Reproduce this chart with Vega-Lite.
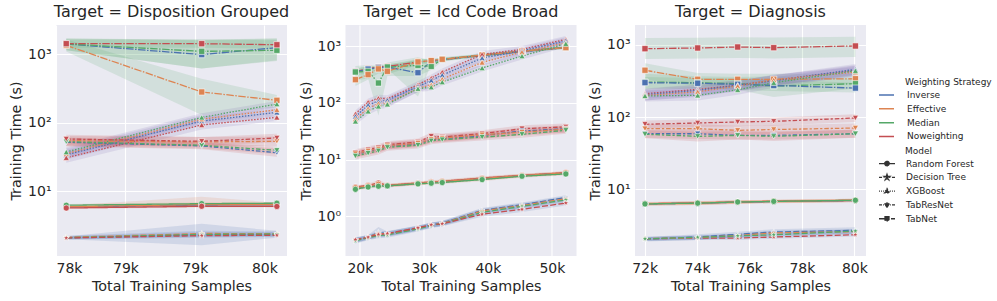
{
  "$schema": "https://vega.github.io/schema/vega-lite/v6.json",
  "background": "white",
  "padding": {"left": 9, "top": 4, "right": 5, "bottom": 5},
  "data": {"values": [
    {"p":"D","w":"Inverse","m":"TabNet","x":78074,"y":1420,"lo":1150,"hi":1700},
    {"p":"D","w":"Inverse","m":"TabNet","x":79049,"y":990,"lo":620,"hi":1600},
    {"p":"D","w":"Inverse","m":"TabNet","x":79590,"y":1250,"lo":820,"hi":1700},
    {"p":"D","w":"Effective","m":"TabNet","x":78074,"y":1350,"lo":1100,"hi":1650},
    {"p":"D","w":"Effective","m":"TabNet","x":79049,"y":282,"lo":130,"hi":440},
    {"p":"D","w":"Effective","m":"TabNet","x":79590,"y":213,"lo":170,"hi":255},
    {"p":"D","w":"Median","m":"TabNet","x":78074,"y":1420,"lo":1150,"hi":1700},
    {"p":"D","w":"Median","m":"TabNet","x":79049,"y":1105,"lo":620,"hi":1650},
    {"p":"D","w":"Median","m":"TabNet","x":79590,"y":1145,"lo":800,"hi":1700},
    {"p":"D","w":"Noweighting","m":"TabNet","x":78074,"y":1430,"lo":1250,"hi":1650},
    {"p":"D","w":"Noweighting","m":"TabNet","x":79049,"y":1430,"lo":1250,"hi":1650},
    {"p":"D","w":"Noweighting","m":"TabNet","x":79590,"y":1380,"lo":1200,"hi":1600},
    {"p":"D","w":"Inverse","m":"XGBoost","x":78074,"y":34.2,"lo":29,"hi":40},
    {"p":"D","w":"Inverse","m":"XGBoost","x":79049,"y":106,"lo":92,"hi":122},
    {"p":"D","w":"Inverse","m":"XGBoost","x":79590,"y":142,"lo":125,"hi":160},
    {"p":"D","w":"Effective","m":"XGBoost","x":78074,"y":35.5,"lo":30,"hi":42},
    {"p":"D","w":"Effective","m":"XGBoost","x":79049,"y":113,"lo":98,"hi":130},
    {"p":"D","w":"Effective","m":"XGBoost","x":79590,"y":155,"lo":137,"hi":175},
    {"p":"D","w":"Median","m":"XGBoost","x":78074,"y":37.5,"lo":32,"hi":44},
    {"p":"D","w":"Median","m":"XGBoost","x":79049,"y":120,"lo":104,"hi":138},
    {"p":"D","w":"Median","m":"XGBoost","x":79590,"y":188,"lo":168,"hi":208},
    {"p":"D","w":"Noweighting","m":"XGBoost","x":78074,"y":30.9,"lo":26,"hi":37},
    {"p":"D","w":"Noweighting","m":"XGBoost","x":79049,"y":93,"lo":80,"hi":108},
    {"p":"D","w":"Noweighting","m":"XGBoost","x":79590,"y":120,"lo":106,"hi":135},
    {"p":"D","w":"Inverse","m":"TabResNet","x":78074,"y":52,"lo":45,"hi":60},
    {"p":"D","w":"Inverse","m":"TabResNet","x":79049,"y":46,"lo":41,"hi":52},
    {"p":"D","w":"Inverse","m":"TabResNet","x":79590,"y":36.6,"lo":32,"hi":42},
    {"p":"D","w":"Effective","m":"TabResNet","x":78074,"y":55,"lo":47,"hi":64},
    {"p":"D","w":"Effective","m":"TabResNet","x":79049,"y":52.5,"lo":45,"hi":62},
    {"p":"D","w":"Effective","m":"TabResNet","x":79590,"y":53.7,"lo":46,"hi":63},
    {"p":"D","w":"Median","m":"TabResNet","x":78074,"y":53,"lo":46,"hi":61},
    {"p":"D","w":"Median","m":"TabResNet","x":79049,"y":47,"lo":42,"hi":53},
    {"p":"D","w":"Median","m":"TabResNet","x":79590,"y":39.6,"lo":35,"hi":45},
    {"p":"D","w":"Noweighting","m":"TabResNet","x":78074,"y":58,"lo":50,"hi":67},
    {"p":"D","w":"Noweighting","m":"TabResNet","x":79049,"y":53.7,"lo":46,"hi":62},
    {"p":"D","w":"Noweighting","m":"TabResNet","x":79590,"y":60,"lo":52,"hi":69},
    {"p":"D","w":"Inverse","m":"Random Forest","x":78074,"y":5.9,"lo":5.7,"hi":6.1},
    {"p":"D","w":"Inverse","m":"Random Forest","x":79049,"y":6.3,"lo":5.9,"hi":6.8},
    {"p":"D","w":"Inverse","m":"Random Forest","x":79590,"y":6.35,"lo":6.1,"hi":6.6},
    {"p":"D","w":"Effective","m":"Random Forest","x":78074,"y":5.95,"lo":5.7,"hi":6.2},
    {"p":"D","w":"Effective","m":"Random Forest","x":79049,"y":6.4,"lo":5.9,"hi":8.3},
    {"p":"D","w":"Effective","m":"Random Forest","x":79590,"y":6.4,"lo":6.1,"hi":6.8},
    {"p":"D","w":"Median","m":"Random Forest","x":78074,"y":6.26,"lo":6,"hi":6.5},
    {"p":"D","w":"Median","m":"Random Forest","x":79049,"y":6.6,"lo":6.3,"hi":6.9},
    {"p":"D","w":"Median","m":"Random Forest","x":79590,"y":6.7,"lo":6.4,"hi":7},
    {"p":"D","w":"Noweighting","m":"Random Forest","x":78074,"y":5.7,"lo":5.5,"hi":5.9},
    {"p":"D","w":"Noweighting","m":"Random Forest","x":79049,"y":6.04,"lo":5.8,"hi":6.3},
    {"p":"D","w":"Noweighting","m":"Random Forest","x":79590,"y":6,"lo":5.8,"hi":6.2},
    {"p":"D","w":"Inverse","m":"Decision Tree","x":78074,"y":2.1,"lo":2,"hi":2.2},
    {"p":"D","w":"Inverse","m":"Decision Tree","x":79049,"y":2.32,"lo":1.63,"hi":3.36},
    {"p":"D","w":"Inverse","m":"Decision Tree","x":79590,"y":2.35,"lo":2.1,"hi":2.65},
    {"p":"D","w":"Effective","m":"Decision Tree","x":78074,"y":2.12,"lo":2,"hi":2.25},
    {"p":"D","w":"Effective","m":"Decision Tree","x":79049,"y":2.42,"lo":2.2,"hi":2.65},
    {"p":"D","w":"Effective","m":"Decision Tree","x":79590,"y":2.4,"lo":2.2,"hi":2.6},
    {"p":"D","w":"Median","m":"Decision Tree","x":78074,"y":2.1,"lo":2,"hi":2.2},
    {"p":"D","w":"Median","m":"Decision Tree","x":79049,"y":2.35,"lo":2.15,"hi":2.55},
    {"p":"D","w":"Median","m":"Decision Tree","x":79590,"y":2.38,"lo":2.2,"hi":2.55},
    {"p":"D","w":"Noweighting","m":"Decision Tree","x":78074,"y":2.08,"lo":1.98,"hi":2.18},
    {"p":"D","w":"Noweighting","m":"Decision Tree","x":79049,"y":2.25,"lo":2.1,"hi":2.4},
    {"p":"D","w":"Noweighting","m":"Decision Tree","x":79590,"y":2.28,"lo":2.15,"hi":2.4},

    {"p":"I","w":"Noweighting","m":"TabNet","x":19310,"y":362,"lo":320,"hi":410},
    {"p":"I","w":"Noweighting","m":"TabNet","x":21290,"y":403,"lo":370,"hi":440},
    {"p":"I","w":"Noweighting","m":"TabNet","x":22900,"y":431,"lo":400,"hi":460},
    {"p":"I","w":"Noweighting","m":"TabNet","x":24300,"y":443,"lo":410,"hi":480},
    {"p":"I","w":"Noweighting","m":"TabNet","x":29080,"y":528,"lo":490,"hi":570},
    {"p":"I","w":"Noweighting","m":"TabNet","x":31150,"y":551,"lo":520,"hi":590},
    {"p":"I","w":"Noweighting","m":"TabNet","x":32870,"y":581,"lo":550,"hi":615},
    {"p":"I","w":"Noweighting","m":"TabNet","x":39100,"y":693,"lo":660,"hi":730},
    {"p":"I","w":"Noweighting","m":"TabNet","x":45330,"y":816,"lo":780,"hi":850},
    {"p":"I","w":"Noweighting","m":"TabNet","x":52180,"y":945,"lo":900,"hi":990},
    {"p":"I","w":"Inverse","m":"TabNet","x":19310,"y":355,"lo":300,"hi":410},
    {"p":"I","w":"Inverse","m":"TabNet","x":21290,"y":395,"lo":340,"hi":440},
    {"p":"I","w":"Inverse","m":"TabNet","x":22900,"y":420,"lo":380,"hi":460},
    {"p":"I","w":"Inverse","m":"TabNet","x":24300,"y":430,"lo":400,"hi":470},
    {"p":"I","w":"Inverse","m":"TabNet","x":29080,"y":342,"lo":130,"hi":600},
    {"p":"I","w":"Inverse","m":"TabNet","x":31150,"y":540,"lo":480,"hi":590},
    {"p":"I","w":"Inverse","m":"TabNet","x":32870,"y":585,"lo":550,"hi":620},
    {"p":"I","w":"Inverse","m":"TabNet","x":39100,"y":690,"lo":660,"hi":720},
    {"p":"I","w":"Inverse","m":"TabNet","x":45330,"y":810,"lo":780,"hi":840},
    {"p":"I","w":"Inverse","m":"TabNet","x":52180,"y":950,"lo":910,"hi":990},
    {"p":"I","w":"Median","m":"TabNet","x":19310,"y":352,"lo":250,"hi":450},
    {"p":"I","w":"Median","m":"TabNet","x":21290,"y":362,"lo":270,"hi":470},
    {"p":"I","w":"Median","m":"TabNet","x":22900,"y":225,"lo":60,"hi":450},
    {"p":"I","w":"Median","m":"TabNet","x":24300,"y":431,"lo":300,"hi":520},
    {"p":"I","w":"Median","m":"TabNet","x":29080,"y":462,"lo":300,"hi":640},
    {"p":"I","w":"Median","m":"TabNet","x":31150,"y":443,"lo":380,"hi":560},
    {"p":"I","w":"Median","m":"TabNet","x":32870,"y":590,"lo":540,"hi":640},
    {"p":"I","w":"Median","m":"TabNet","x":39100,"y":695,"lo":650,"hi":740},
    {"p":"I","w":"Median","m":"TabNet","x":45330,"y":815,"lo":770,"hi":860},
    {"p":"I","w":"Median","m":"TabNet","x":52180,"y":960,"lo":900,"hi":1010},
    {"p":"I","w":"Effective","m":"TabNet","x":19310,"y":258,"lo":200,"hi":320},
    {"p":"I","w":"Effective","m":"TabNet","x":21290,"y":316,"lo":260,"hi":380},
    {"p":"I","w":"Effective","m":"TabNet","x":22900,"y":400,"lo":330,"hi":460},
    {"p":"I","w":"Effective","m":"TabNet","x":24300,"y":362,"lo":320,"hi":420},
    {"p":"I","w":"Effective","m":"TabNet","x":29080,"y":530,"lo":470,"hi":590},
    {"p":"I","w":"Effective","m":"TabNet","x":31150,"y":560,"lo":510,"hi":610},
    {"p":"I","w":"Effective","m":"TabNet","x":32870,"y":590,"lo":550,"hi":630},
    {"p":"I","w":"Effective","m":"TabNet","x":39100,"y":700,"lo":660,"hi":740},
    {"p":"I","w":"Effective","m":"TabNet","x":45330,"y":820,"lo":780,"hi":860},
    {"p":"I","w":"Effective","m":"TabNet","x":52180,"y":950,"lo":910,"hi":990},
    {"p":"I","w":"Noweighting","m":"XGBoost","x":19310,"y":64.7,"lo":56,"hi":74},
    {"p":"I","w":"Noweighting","m":"XGBoost","x":21290,"y":104,"lo":90,"hi":120},
    {"p":"I","w":"Noweighting","m":"XGBoost","x":22900,"y":122,"lo":106,"hi":140},
    {"p":"I","w":"Noweighting","m":"XGBoost","x":24300,"y":119,"lo":104,"hi":137},
    {"p":"I","w":"Noweighting","m":"XGBoost","x":29080,"y":210,"lo":183,"hi":242},
    {"p":"I","w":"Noweighting","m":"XGBoost","x":31150,"y":276,"lo":240,"hi":317},
    {"p":"I","w":"Noweighting","m":"XGBoost","x":32870,"y":352,"lo":306,"hi":405},
    {"p":"I","w":"Noweighting","m":"XGBoost","x":39100,"y":722,"lo":628,"hi":830},
    {"p":"I","w":"Noweighting","m":"XGBoost","x":45330,"y":880,"lo":766,"hi":1012},
    {"p":"I","w":"Noweighting","m":"XGBoost","x":52180,"y":1328,"lo":1155,"hi":1527},
    {"p":"I","w":"Inverse","m":"XGBoost","x":19310,"y":58,"lo":50,"hi":67},
    {"p":"I","w":"Inverse","m":"XGBoost","x":21290,"y":92,"lo":80,"hi":106},
    {"p":"I","w":"Inverse","m":"XGBoost","x":22900,"y":108,"lo":94,"hi":124},
    {"p":"I","w":"Inverse","m":"XGBoost","x":24300,"y":112,"lo":97,"hi":129},
    {"p":"I","w":"Inverse","m":"XGBoost","x":29080,"y":195,"lo":170,"hi":224},
    {"p":"I","w":"Inverse","m":"XGBoost","x":31150,"y":250,"lo":218,"hi":288},
    {"p":"I","w":"Inverse","m":"XGBoost","x":32870,"y":310,"lo":270,"hi":357},
    {"p":"I","w":"Inverse","m":"XGBoost","x":39100,"y":620,"lo":539,"hi":713},
    {"p":"I","w":"Inverse","m":"XGBoost","x":45330,"y":830,"lo":722,"hi":955},
    {"p":"I","w":"Inverse","m":"XGBoost","x":52180,"y":1250,"lo":1088,"hi":1438},
    {"p":"I","w":"Effective","m":"XGBoost","x":19310,"y":52,"lo":45,"hi":60},
    {"p":"I","w":"Effective","m":"XGBoost","x":21290,"y":80,"lo":70,"hi":92},
    {"p":"I","w":"Effective","m":"XGBoost","x":22900,"y":98,"lo":85,"hi":113},
    {"p":"I","w":"Effective","m":"XGBoost","x":24300,"y":100,"lo":87,"hi":115},
    {"p":"I","w":"Effective","m":"XGBoost","x":29080,"y":180,"lo":157,"hi":207},
    {"p":"I","w":"Effective","m":"XGBoost","x":31150,"y":210,"lo":183,"hi":242},
    {"p":"I","w":"Effective","m":"XGBoost","x":32870,"y":265,"lo":231,"hi":305},
    {"p":"I","w":"Effective","m":"XGBoost","x":39100,"y":520,"lo":452,"hi":598},
    {"p":"I","w":"Effective","m":"XGBoost","x":45330,"y":790,"lo":687,"hi":909},
    {"p":"I","w":"Effective","m":"XGBoost","x":52180,"y":1150,"lo":1000,"hi":1323},
    {"p":"I","w":"Median","m":"XGBoost","x":19310,"y":47.5,"lo":41,"hi":55},
    {"p":"I","w":"Median","m":"XGBoost","x":21290,"y":71.5,"lo":62,"hi":82},
    {"p":"I","w":"Median","m":"XGBoost","x":22900,"y":87.5,"lo":76,"hi":101},
    {"p":"I","w":"Median","m":"XGBoost","x":24300,"y":95,"lo":83,"hi":109},
    {"p":"I","w":"Median","m":"XGBoost","x":29080,"y":179,"lo":156,"hi":206},
    {"p":"I","w":"Median","m":"XGBoost","x":31150,"y":190,"lo":165,"hi":219},
    {"p":"I","w":"Median","m":"XGBoost","x":32870,"y":234,"lo":204,"hi":269},
    {"p":"I","w":"Median","m":"XGBoost","x":39100,"y":414,"lo":360,"hi":476},
    {"p":"I","w":"Median","m":"XGBoost","x":45330,"y":674,"lo":586,"hi":775},
    {"p":"I","w":"Median","m":"XGBoost","x":52180,"y":1110,"lo":966,"hi":1277},
    {"p":"I","w":"Noweighting","m":"TabResNet","x":19310,"y":13.3,"lo":11.6,"hi":15.3},
    {"p":"I","w":"Noweighting","m":"TabResNet","x":21290,"y":15,"lo":13.1,"hi":17.3},
    {"p":"I","w":"Noweighting","m":"TabResNet","x":22900,"y":16.3,"lo":14.2,"hi":18.7},
    {"p":"I","w":"Noweighting","m":"TabResNet","x":24300,"y":18.4,"lo":16,"hi":21.2},
    {"p":"I","w":"Noweighting","m":"TabResNet","x":29080,"y":20.5,"lo":17.8,"hi":23.6},
    {"p":"I","w":"Noweighting","m":"TabResNet","x":31150,"y":25.9,"lo":22.5,"hi":29.8},
    {"p":"I","w":"Noweighting","m":"TabResNet","x":32870,"y":25.1,"lo":21.8,"hi":28.9},
    {"p":"I","w":"Noweighting","m":"TabResNet","x":39100,"y":28.8,"lo":25.1,"hi":33.1},
    {"p":"I","w":"Noweighting","m":"TabResNet","x":45330,"y":35.2,"lo":30.6,"hi":40.5},
    {"p":"I","w":"Noweighting","m":"TabResNet","x":52180,"y":37.8,"lo":32.9,"hi":43.5},
    {"p":"I","w":"Inverse","m":"TabResNet","x":19310,"y":12.3,"lo":10.7,"hi":14.1},
    {"p":"I","w":"Inverse","m":"TabResNet","x":21290,"y":14,"lo":12.2,"hi":16.1},
    {"p":"I","w":"Inverse","m":"TabResNet","x":22900,"y":15.3,"lo":13.3,"hi":17.6},
    {"p":"I","w":"Inverse","m":"TabResNet","x":24300,"y":17.3,"lo":15.1,"hi":19.9},
    {"p":"I","w":"Inverse","m":"TabResNet","x":29080,"y":19,"lo":16.5,"hi":21.9},
    {"p":"I","w":"Inverse","m":"TabResNet","x":31150,"y":22.5,"lo":19.6,"hi":25.9},
    {"p":"I","w":"Inverse","m":"TabResNet","x":32870,"y":23.5,"lo":20.4,"hi":27},
    {"p":"I","w":"Inverse","m":"TabResNet","x":39100,"y":26.5,"lo":23.1,"hi":30.5},
    {"p":"I","w":"Inverse","m":"TabResNet","x":45330,"y":32,"lo":27.8,"hi":36.8},
    {"p":"I","w":"Inverse","m":"TabResNet","x":52180,"y":35,"lo":30.5,"hi":40.3},
    {"p":"I","w":"Effective","m":"TabResNet","x":19310,"y":12.8,"lo":11.1,"hi":14.7},
    {"p":"I","w":"Effective","m":"TabResNet","x":21290,"y":14.3,"lo":12.4,"hi":16.4},
    {"p":"I","w":"Effective","m":"TabResNet","x":22900,"y":15.5,"lo":13.5,"hi":17.8},
    {"p":"I","w":"Effective","m":"TabResNet","x":24300,"y":17.6,"lo":15.3,"hi":20.2},
    {"p":"I","w":"Effective","m":"TabResNet","x":29080,"y":19.5,"lo":17,"hi":22.4},
    {"p":"I","w":"Effective","m":"TabResNet","x":31150,"y":23,"lo":20,"hi":26.5},
    {"p":"I","w":"Effective","m":"TabResNet","x":32870,"y":24,"lo":20.9,"hi":27.6},
    {"p":"I","w":"Effective","m":"TabResNet","x":39100,"y":27.5,"lo":23.9,"hi":31.6},
    {"p":"I","w":"Effective","m":"TabResNet","x":45330,"y":30.5,"lo":26.5,"hi":35.1},
    {"p":"I","w":"Effective","m":"TabResNet","x":52180,"y":34.5,"lo":30,"hi":39.7},
    {"p":"I","w":"Median","m":"TabResNet","x":19310,"y":11.6,"lo":10.1,"hi":13.3},
    {"p":"I","w":"Median","m":"TabResNet","x":21290,"y":13,"lo":11.3,"hi":15},
    {"p":"I","w":"Median","m":"TabResNet","x":22900,"y":14.3,"lo":12.4,"hi":16.4},
    {"p":"I","w":"Median","m":"TabResNet","x":24300,"y":16.5,"lo":14.4,"hi":19},
    {"p":"I","w":"Median","m":"TabResNet","x":29080,"y":18,"lo":15.7,"hi":20.7},
    {"p":"I","w":"Median","m":"TabResNet","x":31150,"y":21.5,"lo":18.7,"hi":24.7},
    {"p":"I","w":"Median","m":"TabResNet","x":32870,"y":22.5,"lo":19.6,"hi":25.9},
    {"p":"I","w":"Median","m":"TabResNet","x":39100,"y":25,"lo":21.8,"hi":28.8},
    {"p":"I","w":"Median","m":"TabResNet","x":45330,"y":28,"lo":24.4,"hi":32.2},
    {"p":"I","w":"Median","m":"TabResNet","x":52180,"y":33,"lo":28.7,"hi":38},
    {"p":"I","w":"Noweighting","m":"Random Forest","x":19310,"y":3.3,"lo":3.1,"hi":3.53},
    {"p":"I","w":"Noweighting","m":"Random Forest","x":21290,"y":3.53,"lo":3.32,"hi":3.78},
    {"p":"I","w":"Noweighting","m":"Random Forest","x":22900,"y":3.88,"lo":3.65,"hi":4.4},
    {"p":"I","w":"Noweighting","m":"Random Forest","x":24300,"y":3.53,"lo":3.32,"hi":3.78},
    {"p":"I","w":"Noweighting","m":"Random Forest","x":29080,"y":3.88,"lo":3.65,"hi":4.15},
    {"p":"I","w":"Noweighting","m":"Random Forest","x":31150,"y":4.05,"lo":3.81,"hi":4.33},
    {"p":"I","w":"Noweighting","m":"Random Forest","x":32870,"y":4.16,"lo":3.91,"hi":4.45},
    {"p":"I","w":"Noweighting","m":"Random Forest","x":39100,"y":4.75,"lo":4.47,"hi":5.08},
    {"p":"I","w":"Noweighting","m":"Random Forest","x":45330,"y":5.3,"lo":4.98,"hi":5.67},
    {"p":"I","w":"Noweighting","m":"Random Forest","x":52180,"y":5.9,"lo":5.55,"hi":6.31},
    {"p":"I","w":"Inverse","m":"Random Forest","x":19310,"y":3.15,"lo":2.96,"hi":3.37},
    {"p":"I","w":"Inverse","m":"Random Forest","x":21290,"y":3.4,"lo":3.2,"hi":3.64},
    {"p":"I","w":"Inverse","m":"Random Forest","x":22900,"y":3.6,"lo":3.38,"hi":3.85},
    {"p":"I","w":"Inverse","m":"Random Forest","x":24300,"y":3.45,"lo":3.24,"hi":3.69},
    {"p":"I","w":"Inverse","m":"Random Forest","x":29080,"y":3.8,"lo":3.57,"hi":4.07},
    {"p":"I","w":"Inverse","m":"Random Forest","x":31150,"y":3.95,"lo":3.71,"hi":4.23},
    {"p":"I","w":"Inverse","m":"Random Forest","x":32870,"y":4.05,"lo":3.81,"hi":4.33},
    {"p":"I","w":"Inverse","m":"Random Forest","x":39100,"y":4.6,"lo":4.32,"hi":4.92},
    {"p":"I","w":"Inverse","m":"Random Forest","x":45330,"y":5.2,"lo":4.89,"hi":5.56},
    {"p":"I","w":"Inverse","m":"Random Forest","x":52180,"y":5.8,"lo":5.45,"hi":6.21},
    {"p":"I","w":"Effective","m":"Random Forest","x":19310,"y":3.2,"lo":3.01,"hi":3.42},
    {"p":"I","w":"Effective","m":"Random Forest","x":21290,"y":3.45,"lo":3.24,"hi":3.69},
    {"p":"I","w":"Effective","m":"Random Forest","x":22900,"y":3.7,"lo":3.48,"hi":3.96},
    {"p":"I","w":"Effective","m":"Random Forest","x":24300,"y":3.5,"lo":3.29,"hi":3.75},
    {"p":"I","w":"Effective","m":"Random Forest","x":29080,"y":3.82,"lo":3.59,"hi":4.09},
    {"p":"I","w":"Effective","m":"Random Forest","x":31150,"y":4,"lo":3.76,"hi":4.28},
    {"p":"I","w":"Effective","m":"Random Forest","x":32870,"y":4.1,"lo":3.85,"hi":4.39},
    {"p":"I","w":"Effective","m":"Random Forest","x":39100,"y":4.65,"lo":4.37,"hi":4.98},
    {"p":"I","w":"Effective","m":"Random Forest","x":45330,"y":5.25,"lo":4.94,"hi":5.62},
    {"p":"I","w":"Effective","m":"Random Forest","x":52180,"y":5.85,"lo":5.5,"hi":6.26},
    {"p":"I","w":"Median","m":"Random Forest","x":19310,"y":3,"lo":2.82,"hi":3.21},
    {"p":"I","w":"Median","m":"Random Forest","x":21290,"y":3.3,"lo":3.1,"hi":3.53},
    {"p":"I","w":"Median","m":"Random Forest","x":22900,"y":3.4,"lo":3.2,"hi":3.64},
    {"p":"I","w":"Median","m":"Random Forest","x":24300,"y":3.45,"lo":3.24,"hi":3.69},
    {"p":"I","w":"Median","m":"Random Forest","x":29080,"y":3.75,"lo":3.53,"hi":4.01},
    {"p":"I","w":"Median","m":"Random Forest","x":31150,"y":3.85,"lo":3.62,"hi":4.12},
    {"p":"I","w":"Median","m":"Random Forest","x":32870,"y":3.95,"lo":3.71,"hi":4.23},
    {"p":"I","w":"Median","m":"Random Forest","x":39100,"y":4.45,"lo":4.18,"hi":4.76},
    {"p":"I","w":"Median","m":"Random Forest","x":45330,"y":5.1,"lo":4.79,"hi":5.46},
    {"p":"I","w":"Median","m":"Random Forest","x":52180,"y":5.6,"lo":5.26,"hi":5.99},
    {"p":"I","w":"Inverse","m":"Decision Tree","x":19310,"y":0.38,"lo":0.34,"hi":0.42},
    {"p":"I","w":"Inverse","m":"Decision Tree","x":21290,"y":0.43,"lo":0.39,"hi":0.47},
    {"p":"I","w":"Inverse","m":"Decision Tree","x":22900,"y":0.52,"lo":0.42,"hi":0.65},
    {"p":"I","w":"Inverse","m":"Decision Tree","x":24300,"y":0.49,"lo":0.44,"hi":0.54},
    {"p":"I","w":"Inverse","m":"Decision Tree","x":29080,"y":0.62,"lo":0.56,"hi":0.68},
    {"p":"I","w":"Inverse","m":"Decision Tree","x":31150,"y":0.71,"lo":0.64,"hi":0.78},
    {"p":"I","w":"Inverse","m":"Decision Tree","x":32870,"y":0.76,"lo":0.68,"hi":0.84},
    {"p":"I","w":"Inverse","m":"Decision Tree","x":39100,"y":1.28,"lo":1.15,"hi":1.41},
    {"p":"I","w":"Inverse","m":"Decision Tree","x":45330,"y":1.6,"lo":1.44,"hi":1.76},
    {"p":"I","w":"Inverse","m":"Decision Tree","x":52180,"y":2.15,"lo":1.94,"hi":2.37},
    {"p":"I","w":"Effective","m":"Decision Tree","x":19310,"y":0.38,"lo":0.34,"hi":0.42},
    {"p":"I","w":"Effective","m":"Decision Tree","x":21290,"y":0.43,"lo":0.39,"hi":0.47},
    {"p":"I","w":"Effective","m":"Decision Tree","x":22900,"y":0.5,"lo":0.45,"hi":0.55},
    {"p":"I","w":"Effective","m":"Decision Tree","x":24300,"y":0.49,"lo":0.44,"hi":0.54},
    {"p":"I","w":"Effective","m":"Decision Tree","x":29080,"y":0.62,"lo":0.56,"hi":0.68},
    {"p":"I","w":"Effective","m":"Decision Tree","x":31150,"y":0.7,"lo":0.63,"hi":0.77},
    {"p":"I","w":"Effective","m":"Decision Tree","x":32870,"y":0.75,"lo":0.68,"hi":0.83},
    {"p":"I","w":"Effective","m":"Decision Tree","x":39100,"y":1.25,"lo":1.13,"hi":1.38},
    {"p":"I","w":"Effective","m":"Decision Tree","x":45330,"y":1.55,"lo":1.4,"hi":1.71},
    {"p":"I","w":"Effective","m":"Decision Tree","x":52180,"y":2.05,"lo":1.85,"hi":2.26},
    {"p":"I","w":"Median","m":"Decision Tree","x":19310,"y":0.37,"lo":0.33,"hi":0.41},
    {"p":"I","w":"Median","m":"Decision Tree","x":21290,"y":0.42,"lo":0.38,"hi":0.46},
    {"p":"I","w":"Median","m":"Decision Tree","x":22900,"y":0.46,"lo":0.41,"hi":0.51},
    {"p":"I","w":"Median","m":"Decision Tree","x":24300,"y":0.47,"lo":0.42,"hi":0.52},
    {"p":"I","w":"Median","m":"Decision Tree","x":29080,"y":0.6,"lo":0.54,"hi":0.66},
    {"p":"I","w":"Median","m":"Decision Tree","x":31150,"y":0.69,"lo":0.62,"hi":0.76},
    {"p":"I","w":"Median","m":"Decision Tree","x":32870,"y":0.74,"lo":0.67,"hi":0.81},
    {"p":"I","w":"Median","m":"Decision Tree","x":39100,"y":1.18,"lo":1.06,"hi":1.3},
    {"p":"I","w":"Median","m":"Decision Tree","x":45330,"y":1.5,"lo":1.35,"hi":1.65},
    {"p":"I","w":"Median","m":"Decision Tree","x":52180,"y":1.95,"lo":1.76,"hi":2.15},
    {"p":"I","w":"Noweighting","m":"Decision Tree","x":19310,"y":0.39,"lo":0.35,"hi":0.43},
    {"p":"I","w":"Noweighting","m":"Decision Tree","x":21290,"y":0.43,"lo":0.39,"hi":0.47},
    {"p":"I","w":"Noweighting","m":"Decision Tree","x":22900,"y":0.48,"lo":0.43,"hi":0.53},
    {"p":"I","w":"Noweighting","m":"Decision Tree","x":24300,"y":0.5,"lo":0.45,"hi":0.55},
    {"p":"I","w":"Noweighting","m":"Decision Tree","x":29080,"y":0.63,"lo":0.57,"hi":0.69},
    {"p":"I","w":"Noweighting","m":"Decision Tree","x":31150,"y":0.71,"lo":0.64,"hi":0.78},
    {"p":"I","w":"Noweighting","m":"Decision Tree","x":32870,"y":0.74,"lo":0.67,"hi":0.81},
    {"p":"I","w":"Noweighting","m":"Decision Tree","x":39100,"y":1.09,"lo":0.98,"hi":1.2},
    {"p":"I","w":"Noweighting","m":"Decision Tree","x":45330,"y":1.33,"lo":1.2,"hi":1.46},
    {"p":"I","w":"Noweighting","m":"Decision Tree","x":52180,"y":1.72,"lo":1.55,"hi":1.89},

    {"p":"G","w":"Noweighting","m":"TabNet","x":72015,"y":889,"lo":640,"hi":1250},
    {"p":"G","w":"Noweighting","m":"TabNet","x":74025,"y":909,"lo":650,"hi":1260},
    {"p":"G","w":"Noweighting","m":"TabNet","x":75550,"y":938,"lo":660,"hi":1280},
    {"p":"G","w":"Noweighting","m":"TabNet","x":76925,"y":918,"lo":650,"hi":1270},
    {"p":"G","w":"Noweighting","m":"TabNet","x":80040,"y":969,"lo":680,"hi":1300},
    {"p":"G","w":"Effective","m":"TabNet","x":72015,"y":447,"lo":330,"hi":560},
    {"p":"G","w":"Effective","m":"TabNet","x":74025,"y":335,"lo":270,"hi":410},
    {"p":"G","w":"Effective","m":"TabNet","x":75550,"y":335,"lo":280,"hi":400},
    {"p":"G","w":"Effective","m":"TabNet","x":76925,"y":335,"lo":280,"hi":400},
    {"p":"G","w":"Effective","m":"TabNet","x":80040,"y":341,"lo":290,"hi":400},
    {"p":"G","w":"Median","m":"TabNet","x":72015,"y":307,"lo":240,"hi":400},
    {"p":"G","w":"Median","m":"TabNet","x":74025,"y":301,"lo":250,"hi":370},
    {"p":"G","w":"Median","m":"TabNet","x":75550,"y":291,"lo":240,"hi":360},
    {"p":"G","w":"Median","m":"TabNet","x":76925,"y":270,"lo":190,"hi":370},
    {"p":"G","w":"Median","m":"TabNet","x":80040,"y":291,"lo":250,"hi":340},
    {"p":"G","w":"Inverse","m":"TabNet","x":72015,"y":301,"lo":250,"hi":360},
    {"p":"G","w":"Inverse","m":"TabNet","x":74025,"y":295,"lo":250,"hi":350},
    {"p":"G","w":"Inverse","m":"TabNet","x":75550,"y":285,"lo":240,"hi":340},
    {"p":"G","w":"Inverse","m":"TabNet","x":76925,"y":275,"lo":230,"hi":330},
    {"p":"G","w":"Inverse","m":"TabNet","x":80040,"y":253,"lo":220,"hi":300},
    {"p":"G","w":"Noweighting","m":"XGBoost","x":72015,"y":212,"lo":180,"hi":250},
    {"p":"G","w":"Noweighting","m":"XGBoost","x":74025,"y":243,"lo":205,"hi":285},
    {"p":"G","w":"Noweighting","m":"XGBoost","x":75550,"y":277,"lo":235,"hi":325},
    {"p":"G","w":"Noweighting","m":"XGBoost","x":76925,"y":325,"lo":275,"hi":380},
    {"p":"G","w":"Noweighting","m":"XGBoost","x":80040,"y":447,"lo":380,"hi":525},
    {"p":"G","w":"Inverse","m":"XGBoost","x":72015,"y":205,"lo":170,"hi":245},
    {"p":"G","w":"Inverse","m":"XGBoost","x":74025,"y":235,"lo":195,"hi":280},
    {"p":"G","w":"Inverse","m":"XGBoost","x":75550,"y":275,"lo":230,"hi":325},
    {"p":"G","w":"Inverse","m":"XGBoost","x":76925,"y":320,"lo":270,"hi":380},
    {"p":"G","w":"Inverse","m":"XGBoost","x":80040,"y":460,"lo":390,"hi":545},
    {"p":"G","w":"Effective","m":"XGBoost","x":72015,"y":200,"lo":170,"hi":235},
    {"p":"G","w":"Effective","m":"XGBoost","x":74025,"y":225,"lo":190,"hi":265},
    {"p":"G","w":"Effective","m":"XGBoost","x":75550,"y":270,"lo":230,"hi":315},
    {"p":"G","w":"Effective","m":"XGBoost","x":76925,"y":330,"lo":280,"hi":390},
    {"p":"G","w":"Effective","m":"XGBoost","x":80040,"y":420,"lo":360,"hi":490},
    {"p":"G","w":"Median","m":"XGBoost","x":72015,"y":197,"lo":165,"hi":235},
    {"p":"G","w":"Median","m":"XGBoost","x":74025,"y":201,"lo":170,"hi":240},
    {"p":"G","w":"Median","m":"XGBoost","x":75550,"y":240,"lo":205,"hi":285},
    {"p":"G","w":"Median","m":"XGBoost","x":76925,"y":300,"lo":255,"hi":355},
    {"p":"G","w":"Median","m":"XGBoost","x":80040,"y":440,"lo":375,"hi":515},
    {"p":"G","w":"Noweighting","m":"TabResNet","x":72015,"y":79.8,"lo":70,"hi":90},
    {"p":"G","w":"Noweighting","m":"TabResNet","x":74025,"y":83.2,"lo":73,"hi":94},
    {"p":"G","w":"Noweighting","m":"TabResNet","x":75550,"y":85.8,"lo":75,"hi":97},
    {"p":"G","w":"Noweighting","m":"TabResNet","x":76925,"y":87.7,"lo":77,"hi":99},
    {"p":"G","w":"Noweighting","m":"TabResNet","x":80040,"y":97.5,"lo":86,"hi":110},
    {"p":"G","w":"Effective","m":"TabResNet","x":72015,"y":69.3,"lo":60,"hi":80},
    {"p":"G","w":"Effective","m":"TabResNet","x":74025,"y":69.3,"lo":58,"hi":80},
    {"p":"G","w":"Effective","m":"TabResNet","x":75550,"y":65.8,"lo":57,"hi":76},
    {"p":"G","w":"Effective","m":"TabResNet","x":76925,"y":67.5,"lo":58,"hi":78},
    {"p":"G","w":"Effective","m":"TabResNet","x":80040,"y":70.8,"lo":61,"hi":82},
    {"p":"G","w":"Inverse","m":"TabResNet","x":72015,"y":59,"lo":52,"hi":67},
    {"p":"G","w":"Inverse","m":"TabResNet","x":74025,"y":59,"lo":50,"hi":68},
    {"p":"G","w":"Inverse","m":"TabResNet","x":75550,"y":56,"lo":49,"hi":64},
    {"p":"G","w":"Inverse","m":"TabResNet","x":76925,"y":56,"lo":49,"hi":64},
    {"p":"G","w":"Inverse","m":"TabResNet","x":80040,"y":59,"lo":52,"hi":67},
    {"p":"G","w":"Median","m":"TabResNet","x":72015,"y":58,"lo":51,"hi":66},
    {"p":"G","w":"Median","m":"TabResNet","x":74025,"y":54.3,"lo":46,"hi":63},
    {"p":"G","w":"Median","m":"TabResNet","x":75550,"y":56,"lo":49,"hi":64},
    {"p":"G","w":"Median","m":"TabResNet","x":76925,"y":54.3,"lo":47,"hi":62},
    {"p":"G","w":"Median","m":"TabResNet","x":80040,"y":59,"lo":52,"hi":67},
    {"p":"G","w":"Noweighting","m":"Random Forest","x":72015,"y":6.34,"lo":6,"hi":6.7},
    {"p":"G","w":"Noweighting","m":"Random Forest","x":74025,"y":6.48,"lo":6.1,"hi":6.9},
    {"p":"G","w":"Noweighting","m":"Random Forest","x":75550,"y":6.7,"lo":6.35,"hi":7.05},
    {"p":"G","w":"Noweighting","m":"Random Forest","x":76925,"y":6.84,"lo":6.5,"hi":7.2},
    {"p":"G","w":"Noweighting","m":"Random Forest","x":80040,"y":7.06,"lo":6.7,"hi":7.45},
    {"p":"G","w":"Inverse","m":"Random Forest","x":72015,"y":6.3,"lo":6,"hi":6.6},
    {"p":"G","w":"Inverse","m":"Random Forest","x":74025,"y":6.45,"lo":6.1,"hi":6.8},
    {"p":"G","w":"Inverse","m":"Random Forest","x":75550,"y":6.65,"lo":6.3,"hi":7},
    {"p":"G","w":"Inverse","m":"Random Forest","x":76925,"y":6.8,"lo":6.45,"hi":7.15},
    {"p":"G","w":"Inverse","m":"Random Forest","x":80040,"y":7,"lo":6.65,"hi":7.35},
    {"p":"G","w":"Effective","m":"Random Forest","x":72015,"y":6.32,"lo":6,"hi":6.65},
    {"p":"G","w":"Effective","m":"Random Forest","x":74025,"y":6.5,"lo":6.15,"hi":6.85},
    {"p":"G","w":"Effective","m":"Random Forest","x":75550,"y":6.68,"lo":6.35,"hi":7},
    {"p":"G","w":"Effective","m":"Random Forest","x":76925,"y":6.85,"lo":6.5,"hi":7.2},
    {"p":"G","w":"Effective","m":"Random Forest","x":80040,"y":7.05,"lo":6.7,"hi":7.4},
    {"p":"G","w":"Median","m":"Random Forest","x":72015,"y":6.3,"lo":6,"hi":6.6},
    {"p":"G","w":"Median","m":"Random Forest","x":74025,"y":6.45,"lo":6.1,"hi":6.8},
    {"p":"G","w":"Median","m":"Random Forest","x":75550,"y":6.7,"lo":6.35,"hi":7.05},
    {"p":"G","w":"Median","m":"Random Forest","x":76925,"y":6.82,"lo":6.5,"hi":7.15},
    {"p":"G","w":"Median","m":"Random Forest","x":80040,"y":7.08,"lo":6.7,"hi":7.45},
    {"p":"G","w":"Noweighting","m":"Decision Tree","x":72015,"y":2.07,"lo":1.95,"hi":2.2},
    {"p":"G","w":"Noweighting","m":"Decision Tree","x":74025,"y":2.12,"lo":2,"hi":2.25},
    {"p":"G","w":"Noweighting","m":"Decision Tree","x":75550,"y":2.12,"lo":2,"hi":2.25},
    {"p":"G","w":"Noweighting","m":"Decision Tree","x":76925,"y":2.19,"lo":2.07,"hi":2.32},
    {"p":"G","w":"Noweighting","m":"Decision Tree","x":80040,"y":2.36,"lo":2.22,"hi":2.5},
    {"p":"G","w":"Inverse","m":"Decision Tree","x":72015,"y":2.05,"lo":1.9,"hi":2.2},
    {"p":"G","w":"Inverse","m":"Decision Tree","x":74025,"y":2.19,"lo":2,"hi":2.4},
    {"p":"G","w":"Inverse","m":"Decision Tree","x":75550,"y":2.39,"lo":2.2,"hi":2.6},
    {"p":"G","w":"Inverse","m":"Decision Tree","x":76925,"y":2.57,"lo":2.35,"hi":2.8},
    {"p":"G","w":"Inverse","m":"Decision Tree","x":80040,"y":2.71,"lo":2.45,"hi":3},
    {"p":"G","w":"Effective","m":"Decision Tree","x":72015,"y":2.08,"lo":1.95,"hi":2.2},
    {"p":"G","w":"Effective","m":"Decision Tree","x":74025,"y":2.15,"lo":2,"hi":2.3},
    {"p":"G","w":"Effective","m":"Decision Tree","x":75550,"y":2.3,"lo":2.15,"hi":2.45},
    {"p":"G","w":"Effective","m":"Decision Tree","x":76925,"y":2.5,"lo":2.3,"hi":2.7},
    {"p":"G","w":"Effective","m":"Decision Tree","x":80040,"y":2.6,"lo":2.4,"hi":2.8},
    {"p":"G","w":"Median","m":"Decision Tree","x":72015,"y":2.07,"lo":1.95,"hi":2.2},
    {"p":"G","w":"Median","m":"Decision Tree","x":74025,"y":2.17,"lo":2.05,"hi":2.3},
    {"p":"G","w":"Median","m":"Decision Tree","x":75550,"y":2.27,"lo":2.12,"hi":2.42},
    {"p":"G","w":"Median","m":"Decision Tree","x":76925,"y":2.35,"lo":2.2,"hi":2.5},
    {"p":"G","w":"Median","m":"Decision Tree","x":80040,"y":2.65,"lo":2.48,"hi":2.83}
  ]},
  "hconcat": [
    {
      "width": 231, "height": 231,
      "title": "Target = Disposition Grouped",
      "transform": [{"filter": "datum.p === 'D'"}],
      "encoding": {
        "x": {"field": "x", "type": "quantitative",
              "scale": {"domain": [78000, 79663], "nice": false, "zero": false},
              "axis": {"values": [78000, 78500, 79000, 79500], "labelExpr": "format(datum.value / 1000, '.0f') + 'k'", "title": "Total Training Samples"}}
      },
      "layer": [
        {"mark": {"type": "area", "opacity": 0.16, "clip": true},
         "encoding": {
           "y": {"field": "lo", "type": "quantitative", "scale": {"type": "log", "domain": [1.135, 2680], "nice": false},
                 "axis": {"values": [10, 100, 1000], "labelExpr": "datum.value >= 999 ? '10³' : datum.value >= 99 ? '10²' : datum.value >= 9 ? '10¹' : '10⁰'", "title": "Training Time (s)"}},
           "y2": {"field": "hi"},
           "fill": {"field": "m", "type": "nominal", "scale": {"domain": ["TabNet", "TabResNet", "XGBoost", "Decision Tree", "Random Forest"], "range": ["#55A868", "#C44E52", "#8172B3", "#4C72B0", "#DD8452"]}, "legend": null},
           "detail": {"field": "w"}
         }},
        {"mark": {"type": "line", "strokeWidth": 1.3, "clip": true},
         "encoding": {
           "y": {"field": "y", "type": "quantitative", "scale": {"type": "log", "domain": [1.135, 2680], "nice": false},
                 "axis": {"values": [10, 100, 1000], "labelExpr": "datum.value >= 999 ? '10³' : datum.value >= 99 ? '10²' : datum.value >= 9 ? '10¹' : '10⁰'", "title": "Training Time (s)"}},
           "color": {"field": "w", "type": "nominal", "scale": {"domain": ["Inverse", "Effective", "Median", "Noweighting"], "range": ["#4C72B0", "#DD8452", "#55A868", "#C44E52"]},
                     "legend": {"title": "Weighting Strategy", "orient": "none", "legendX": 822, "legendY": 53, "symbolType": "stroke", "symbolSize": 225, "symbolStrokeWidth": 1.5, "labelOffset": 12, "clipHeight": 10.5,
                                "encode": {"title": {"update": {"dx": {"value": 27}}}, "symbols": {"update": {"stroke": {"scale": "color", "field": "value"}, "strokeWidth": {"value": 1.5}}}}}},
           "strokeDash": {"field": "m", "type": "nominal", "scale": {"domain": ["Random Forest", "Decision Tree", "XGBoost", "TabResNet", "TabNet"], "range": [[1, 0], [6, 2.25], [1.5, 1.5], [4.5, 1.9, 2.25, 1.9], [7.5, 1.5, 1.5, 1.5]]},
                          "legend": {"title": "Model", "orient": "none", "legendX": 822, "legendY": 121.5, "symbolSize": 256, "labelOffset": 10, "clipHeight": 10.5,
                                     "encode": {"title": {"update": {"dx": {"value": 27}}},
                                                "symbols": {"update": {
                                                  "shape": {"signal": "datum.value === 'Random Forest' ? 'M-1,0H1M0.28,0A0.28,0.28 0 1,1 -0.28,0A0.28,0.28 0 1,1 0.28,0Z' : datum.value === 'Decision Tree' ? 'M-1,0H-0.62M-0.42,0H-0.3M0.3,0H0.42M0.62,0H1M0,-0.38L0.09,-0.123L0.362,-0.118L0.144,0.047L0.223,0.308L0,0.152L-0.223,0.308L-0.144,0.047L-0.362,-0.118L-0.09,-0.123Z' : datum.value === 'XGBoost' ? 'M-1,0H-0.88M-0.74,0H-0.62M-0.48,0H-0.36M0.36,0H0.48M0.62,0H0.74M0.88,0H1M0,-0.32L0.32,0.22L-0.32,0.22Z' : datum.value === 'TabResNet' ? 'M-1,0H-0.62M-0.48,0H-0.38M0.38,0H0.48M0.62,0H1M0,0.32L0.32,-0.22L-0.32,-0.22Z' : 'M-1,0H1M-0.25,-0.25H0.25V0.25H-0.25Z'"},
                                                  "fill": {"value": "#333333"}, "stroke": {"value": "#333333"}, "strokeWidth": {"value": 1.3}, "strokeDash": {"value": [1, 0]}, "opacity": {"value": 1}}}}}}
         }},
        {"mark": {"type": "point", "filled": true, "size": 38, "opacity": 1, "stroke": "white", "strokeWidth": 0.6, "clip": true},
         "encoding": {
           "y": {"field": "y", "type": "quantitative", "scale": {"type": "log", "domain": [1.135, 2680], "nice": false},
                 "axis": {"values": [10, 100, 1000], "labelExpr": "datum.value >= 999 ? '10³' : datum.value >= 99 ? '10²' : datum.value >= 9 ? '10¹' : '10⁰'", "title": "Training Time (s)"}},
           "color": {"field": "w", "type": "nominal"},
           "shape": {"field": "m", "type": "nominal",
                     "scale": {"domain": ["TabNet", "Random Forest", "Decision Tree", "XGBoost", "TabResNet"],
                               "range": ["square", "circle", "M0,-1L0.235,-0.324L0.951,-0.309L0.38,0.124L0.588,0.809L0,0.4L-0.588,0.809L-0.38,0.124L-0.951,-0.309L-0.235,-0.324Z", "triangle-up", "triangle-down"]},
                     "legend": null}
         }}
      ]
    },
    {
      "width": 231, "height": 231,
      "title": "Target = Icd Code Broad",
      "transform": [{"filter": "datum.p === 'I'"}],
      "encoding": {
        "x": {"field": "x", "type": "quantitative",
              "scale": {"domain": [17757, 53847], "nice": false, "zero": false},
              "axis": {"values": [20000, 30000, 40000, 50000], "labelExpr": "format(datum.value / 1000, '.0f') + 'k'", "title": "Total Training Samples"}}
      },
      "layer": [
        {"mark": {"type": "area", "opacity": 0.16, "clip": true},
         "encoding": {
           "y": {"field": "lo", "type": "quantitative", "scale": {"type": "log", "domain": [0.2, 2375], "nice": false},
                 "axis": {"values": [1, 10, 100, 1000], "labelExpr": "datum.value >= 999 ? '10³' : datum.value >= 99 ? '10²' : datum.value >= 9 ? '10¹' : '10⁰'", "title": "Training Time (s)"}},
           "y2": {"field": "hi"},
           "fill": {"field": "m", "type": "nominal", "legend": null},
           "detail": {"field": "w"}
         }},
        {"mark": {"type": "line", "strokeWidth": 1.3, "clip": true},
         "encoding": {
           "y": {"field": "y", "type": "quantitative", "scale": {"type": "log", "domain": [0.2, 2375], "nice": false},
                 "axis": {"values": [1, 10, 100, 1000], "labelExpr": "datum.value >= 999 ? '10³' : datum.value >= 99 ? '10²' : datum.value >= 9 ? '10¹' : '10⁰'", "title": "Training Time (s)"}},
           "color": {"field": "w", "type": "nominal"},
           "strokeDash": {"field": "m", "type": "nominal"}
         }},
        {"mark": {"type": "point", "filled": true, "size": 38, "opacity": 1, "stroke": "white", "strokeWidth": 0.6, "clip": true},
         "encoding": {
           "y": {"field": "y", "type": "quantitative", "scale": {"type": "log", "domain": [0.2, 2375], "nice": false},
                 "axis": {"values": [1, 10, 100, 1000], "labelExpr": "datum.value >= 999 ? '10³' : datum.value >= 99 ? '10²' : datum.value >= 9 ? '10¹' : '10⁰'", "title": "Training Time (s)"}},
           "color": {"field": "w", "type": "nominal"},
           "shape": {"field": "m", "type": "nominal", "legend": null}
         }}
      ]
    },
    {
      "width": 231, "height": 231,
      "title": "Target = Diagnosis",
      "transform": [{"filter": "datum.p === 'G'"}],
      "encoding": {
        "x": {"field": "x", "type": "quantitative",
              "scale": {"domain": [71634, 80444], "nice": false, "zero": false},
              "axis": {"values": [72000, 74000, 76000, 78000, 80000], "labelExpr": "format(datum.value / 1000, '.0f') + 'k'", "title": "Total Training Samples"}}
      },
      "layer": [
        {"mark": {"type": "area", "opacity": 0.16, "clip": true},
         "encoding": {
           "y": {"field": "lo", "type": "quantitative", "scale": {"type": "log", "domain": [1.196, 1892], "nice": false},
                 "axis": {"values": [10, 100, 1000], "labelExpr": "datum.value >= 999 ? '10³' : datum.value >= 99 ? '10²' : datum.value >= 9 ? '10¹' : '10⁰'", "title": "Training Time (s)"}},
           "y2": {"field": "hi"},
           "fill": {"field": "m", "type": "nominal", "legend": null},
           "detail": {"field": "w"}
         }},
        {"mark": {"type": "line", "strokeWidth": 1.3, "clip": true},
         "encoding": {
           "y": {"field": "y", "type": "quantitative", "scale": {"type": "log", "domain": [1.196, 1892], "nice": false},
                 "axis": {"values": [10, 100, 1000], "labelExpr": "datum.value >= 999 ? '10³' : datum.value >= 99 ? '10²' : datum.value >= 9 ? '10¹' : '10⁰'", "title": "Training Time (s)"}},
           "color": {"field": "w", "type": "nominal"},
           "strokeDash": {"field": "m", "type": "nominal"}
         }},
        {"mark": {"type": "point", "filled": true, "size": 38, "opacity": 1, "stroke": "white", "strokeWidth": 0.6, "clip": true},
         "encoding": {
           "y": {"field": "y", "type": "quantitative", "scale": {"type": "log", "domain": [1.196, 1892], "nice": false},
                 "axis": {"values": [10, 100, 1000], "labelExpr": "datum.value >= 999 ? '10³' : datum.value >= 99 ? '10²' : datum.value >= 9 ? '10¹' : '10⁰'", "title": "Training Time (s)"}},
           "color": {"field": "w", "type": "nominal"},
           "shape": {"field": "m", "type": "nominal", "legend": null}
         }}
      ]
    }
  ],
  "spacing": 58.5,
  "bounds": "flush",
  "resolve": {
    "scale": {"x": "independent", "y": "independent", "color": "shared", "fill": "shared", "shape": "shared", "strokeDash": "shared"},
    "legend": {"color": "shared", "strokeDash": "shared"}
  },
  "config": {
    "font": "DejaVu Sans",
    "view": {"fill": "#EAEAF2", "stroke": null},
    "axis": {
      "domain": false, "ticks": false, "grid": true, "gridColor": "#FFFFFF", "gridWidth": 1.1,
      "labelFont": "DejaVu Sans", "labelFontSize": 14, "labelColor": "#262626", "labelPadding": 5,
      "titleFont": "DejaVu Sans", "titleFontSize": 14.3, "titleFontWeight": "normal", "titleColor": "#262626", "titlePadding": 4
    },
    "title": {"font": "DejaVu Sans", "fontSize": 16, "fontWeight": "normal", "color": "#262626", "offset": 5},
    "legend": {
      "labelFont": "DejaVu Sans", "labelFontSize": 9, "labelColor": "#262626",
      "titleFont": "DejaVu Sans", "titleFontSize": 9, "titleFontWeight": "normal", "titleColor": "#262626",
      "padding": 0, "rowPadding": 2.8, "titlePadding": 2.8
    }
  }
}
